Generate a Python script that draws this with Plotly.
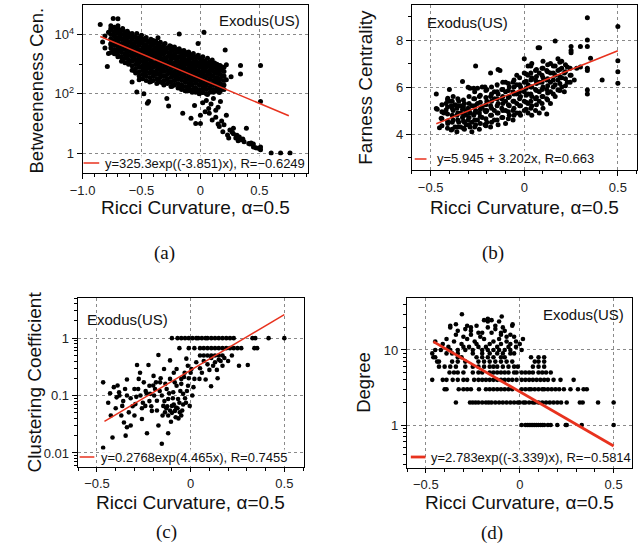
import math
import plotly.graph_objects as go

# ------------------------------------------------------------------ data
network_label = "Exodus(US)"
x_axis_title = "Ricci Curvature, α=0.5"
y_axis_titles = ["Betweeneness Cen.", "Farness Centrality", "Clustering Coefficient", "Degree"]
captions = ["(a)", "(b)", "(c)", "(d)"]

# (a) Ricci curvature vs betweenness centrality (log y) -- scattered points
pts_a = [
    (-0.85, 22000), (-0.83, 5600), (-0.81, 9000), (-0.81, 3500), (-0.79, 830), (-0.78, 12000), (-0.78, 2300),
    (-0.76, 7000), (-0.76, 4500), (-0.76, 16000), (-0.74, 35000), (-0.74, 10000), (-0.74, 3000), (-0.74, 6000),
    (-0.72, 14000), (-0.72, 5000), (-0.72, 2500), (-0.72, 8000), (-0.70, 34000), (-0.70, 20000), (-0.70, 6500),
    (-0.70, 3500), (-0.70, 1800), (-0.68, 12000), (-0.68, 4200), (-0.68, 2800), (-0.68, 9000), (-0.66, 16000),
    (-0.66, 7000), (-0.66, 3200), (-0.66, 1400), (-0.64, 10000), (-0.64, 5000), (-0.64, 2200), (-0.64, 6500),
    (-0.62, 13000), (-0.62, 4000), (-0.62, 2600), (-0.62, 1600), (-0.62, 8000), (-0.60, 9000), (-0.60, 5500),
    (-0.60, 3000), (-0.60, 1200), (-0.58, 7000), (-0.58, 4000), (-0.58, 2000), (-0.58, 11000), (-0.58, 250),
    (-0.56, 8500), (-0.56, 5000), (-0.56, 2800), (-0.56, 1500), (-0.56, 600), (-0.54, 11000), (-0.54, 6000),
    (-0.54, 3500), (-0.54, 2000), (-0.54, 1000), (-0.54, 115), (-0.52, 7500), (-0.52, 4500), (-0.52, 2400),
    (-0.52, 1300), (-0.52, 300), (-0.50, 9500), (-0.50, 5500), (-0.50, 3000), (-0.50, 1800), (-0.50, 800),
    (-0.48, 6500), (-0.48, 3800), (-0.48, 2100), (-0.48, 1100), (-0.48, 100), (-0.48, 450), (-0.46, 8000),
    (-0.46, 4500), (-0.46, 2600), (-0.46, 1500), (-0.46, 700), (-0.45, 48), (-0.45, 3200), (-0.45, 1000),
    (-0.44, 6000), (-0.44, 3500), (-0.44, 1900), (-0.44, 900), (-0.44, 55), (-0.42, 7000), (-0.42, 4200),
    (-0.42, 2300), (-0.42, 1300), (-0.42, 600), (-0.42, 260), (-0.40, 5200), (-0.40, 3000), (-0.40, 1700),
    (-0.40, 800), (-0.40, 400), (-0.38, 6000), (-0.38, 3600), (-0.38, 2000), (-0.38, 1100), (-0.38, 500),
    (-0.36, 4500), (-0.36, 2700), (-0.36, 1500), (-0.36, 700), (-0.36, 300), (-0.36, 7800), (-0.34, 5500),
    (-0.34, 3200), (-0.34, 1800), (-0.34, 950), (-0.34, 450), (-0.32, 4000), (-0.32, 2400), (-0.32, 1300),
    (-0.32, 650), (-0.32, 230), (-0.30, 5000), (-0.30, 2900), (-0.30, 1600), (-0.30, 850), (-0.30, 400),
    (-0.285, 70), (-0.27, 39), (-0.27, 3600), (-0.27, 1900), (-0.27, 1000), (-0.27, 500), (-0.27, 250),
    (-0.26, 4200), (-0.26, 2200), (-0.26, 1200), (-0.26, 600), (-0.24, 3000), (-0.24, 1700), (-0.24, 900),
    (-0.24, 450), (-0.24, 180), (-0.22, 3800), (-0.22, 2000), (-0.22, 1100), (-0.22, 550), (-0.22, 280),
    (-0.20, 2600), (-0.20, 1400), (-0.20, 750), (-0.20, 380), (-0.18, 10500), (-0.18, 3300), (-0.18, 1800),
    (-0.18, 950), (-0.18, 480), (-0.18, 200), (-0.16, 2400), (-0.16, 1300), (-0.16, 700), (-0.16, 350),
    (-0.16, 150), (-0.15, 22), (-0.14, 2900), (-0.14, 1600), (-0.14, 850), (-0.14, 420), (-0.12, 2100),
    (-0.12, 1150), (-0.12, 600), (-0.12, 300), (-0.12, 130), (-0.10, 2600), (-0.10, 1000), (-0.10, 1400),
    (-0.10, 750), (-0.10, 380), (-0.10, 180), (-0.08, 1900), (-0.08, 1000), (-0.08, 520), (-0.08, 260),
    (-0.08, 15), (-0.06, 2300), (-0.06, 1000), (-0.06, 1200), (-0.06, 650), (-0.06, 330), (-0.06, 140),
    (-0.05, 40), (-0.04, 1700), (-0.04, 1000), (-0.04, 900), (-0.04, 480), (-0.04, 240), (-0.04, 10),
    (-0.02, 5000), (-0.02, 2000), (-0.02, 1000), (-0.02, 1100), (-0.02, 580), (-0.02, 290), (-0.02, 120),
    (0.00, 1500), (0.00, 1000), (0.00, 800), (0.00, 420), (0.00, 210), (0.00, 19), (0.00, 10), (0.02, 1800),
    (0.02, 1000), (0.02, 950), (0.02, 500), (0.02, 260), (0.02, 110), (0.02, 50), (0.03, 12000), (0.04, 1300),
    (0.04, 1000), (0.04, 700), (0.04, 360), (0.04, 180), (0.04, 25), (0.05, 60), (0.06, 1600), (0.06, 1000),
    (0.06, 850), (0.06, 450), (0.06, 230), (0.06, 95), (0.07, 32), (0.075, 22), (0.08, 1200), (0.08, 1000),
    (0.08, 600), (0.08, 320), (0.08, 160), (0.09, 45), (0.10, 1400), (0.10, 1000), (0.10, 750), (0.10, 400),
    (0.10, 200), (0.10, 13), (0.11, 70), (0.12, 1100), (0.12, 1000), (0.12, 550), (0.12, 280), (0.12, 130),
    (0.13, 28), (0.13, 16), (0.14, 1000), (0.14, 650), (0.14, 350), (0.14, 170), (0.15, 35), (0.15, 9.5),
    (0.16, 900), (0.16, 480), (0.16, 240), (0.16, 110), (0.16, 7.8), (0.17, 55), (0.18, 750), (0.18, 400),
    (0.18, 200), (0.18, 12), (0.19, 5.2), (0.20, 9), (0.21, 3000), (0.22, 950), (0.22, 300), (0.22, 19),
    (0.23, 4.1), (0.24, 3.2), (0.25, 6), (0.26, 380), (0.27, 5), (0.28, 6.8), (0.28, 4.5), (0.30, 3.2),
    (0.31, 4.0), (0.32, 2.6), (0.33, 3.5), (0.34, 900), (0.34, 470), (0.34, 2.8), (0.36, 3.0), (0.37, 2.4),
    (0.39, 6.8), (0.41, 2.1), (0.42, 2.0), (0.43, 2.2), (0.45, 1.6), (0.45, 2.0), (0.47, 1.5), (0.49, 1.45),
    (0.51, 900), (0.51, 55), (0.51, 1.6), (0.51, 1.3), (0.60, 1), (0.68, 1), (0.76, 1),
]
# (a) dense core of the cloud, read column by column: (curvature, [betweenness values])
core_a = [
    (-0.76, [2510, 3550, 5010, 7080, 10000, 14100, 20000]),
    (-0.73, [2240, 3160, 4470, 6310, 8910, 12600, 17800]),
    (-0.70, [2000, 2820, 3980, 5620, 7940, 11200, 15800]),
    (-0.67, [1260, 1780, 2510, 3550, 5010, 7080, 10000, 14100]),
    (-0.64, [1120, 1580, 2240, 3160, 4470, 6310, 8910, 12600]),
    (-0.61, [1000, 1410, 2000, 2820, 3980, 5620, 7940, 11200]),
    (-0.58, [630, 890, 1260, 1780, 2510, 3550, 5010, 7080, 10000]),
    (-0.55, [500, 710, 1000, 1410, 2000, 2820, 3980, 5620, 7940]),
    (-0.52, [400, 560, 790, 1120, 1580, 2240, 3160, 4470, 6310, 7940]),
    (-0.49, [320, 450, 630, 890, 1260, 1780, 2510, 3550, 5010, 7080]),
    (-0.46, [280, 400, 560, 790, 1120, 1580, 2240, 3160, 4470, 6310]),
    (-0.43, [250, 355, 500, 710, 1000, 1410, 2000, 2820, 3980, 5620]),
    (-0.40, [280, 400, 560, 790, 1120, 1580, 2240, 3160, 4470, 6310]),
    (-0.37, [224, 316, 447, 631, 891, 1259, 1778, 2512, 3548, 5012]),
    (-0.34, [251, 355, 501, 708, 1000, 1413, 1995, 2818, 3981]),
    (-0.31, [200, 282, 398, 562, 794, 1122, 1585, 2239, 3162, 4467]),
    (-0.28, [224, 316, 447, 631, 891, 1259, 1778, 2512, 3548]),
    (-0.25, [178, 251, 355, 501, 708, 1000, 1413, 1995, 2818, 3981]),
    (-0.22, [200, 282, 398, 562, 794, 1122, 1585, 2239, 3162]),
    (-0.19, [158, 224, 316, 447, 631, 891, 1259, 1778, 2512, 3162]),
    (-0.16, [141, 200, 282, 398, 562, 794, 1122, 1585, 2239, 2818]),
    (-0.13, [126, 178, 251, 355, 501, 708, 1000, 1413, 1995, 2512]),
    (-0.10, [126, 158, 224, 316, 447, 631, 891, 1259, 1778, 2239]),
    (-0.07, [112, 141, 200, 282, 398, 562, 794, 1122, 1585, 1995]),
    (-0.04, [112, 158, 224, 316, 447, 631, 891, 1000, 1259, 1778]),
    (-0.01, [100, 141, 200, 282, 398, 562, 794, 1000, 1122, 1585]),
    (0.02, [112, 158, 224, 316, 447, 631, 891, 1000, 1259]),
    (0.05, [100, 141, 200, 282, 398, 562, 794, 1000, 1122]),
    (0.08, [112, 158, 224, 316, 447, 631, 891, 1000]),
    (0.11, [112, 141, 200, 282, 398, 562, 794, 1000]),
    (0.14, [126, 178, 251, 355, 501, 708, 891]),
    (0.17, [126, 158, 224, 316, 447, 631, 891]),
    (0.20, [141, 200, 282, 398, 562, 794]),
]

# (b) Ricci curvature vs farness centrality (linear y)
pts_b = [
    (-0.47, 5.70), (-0.47, 5.09), (-0.465, 5.05), (-0.453, 4.27), (-0.444, 4.67), (-0.43, 4.9), (-0.418, 5.02),
    (-0.418, 5.3), (-0.409, 5.52), (-0.409, 4.45), (-0.40, 5.90), (-0.40, 5.4), (-0.39, 4.17), (-0.39, 5.2),
    (-0.38, 4.6), (-0.38, 5.0), (-0.38, 5.6), (-0.37, 4.3), (-0.37, 5.25), (-0.36, 4.8), (-0.36, 5.1),
    (-0.36, 4.1), (-0.35, 4.5), (-0.35, 5.4), (-0.34, 4.3), (-0.34, 4.9), (-0.34, 5.2), (-0.33, 6.23),
    (-0.33, 4.7), (-0.33, 5.05), (-0.32, 4.2), (-0.32, 4.5), (-0.32, 5.3), (-0.31, 4.8), (-0.31, 5.0),
    (-0.31, 4.4), (-0.30, 5.99), (-0.30, 4.6), (-0.30, 5.1), (-0.29, 4.3), (-0.29, 4.9), (-0.29, 5.95),
    (-0.28, 4.5), (-0.28, 5.2), (-0.28, 4.1), (-0.27, 4.8), (-0.27, 5.95), (-0.27, 5.5), (-0.26, 6.9),
    (-0.26, 4.4), (-0.26, 5.0), (-0.25, 4.6), (-0.25, 5.3), (-0.25, 5.95), (-0.24, 4.2), (-0.24, 4.9),
    (-0.24, 5.6), (-0.225, 6.0), (-0.225, 4.7), (-0.225, 5.15), (-0.21, 4.4), (-0.21, 5.0), (-0.21, 6.0),
    (-0.20, 4.5), (-0.20, 5.0), (-0.20, 5.4), (-0.20, 5.9), (-0.18, 4.3), (-0.18, 4.8), (-0.18, 5.2),
    (-0.18, 5.6), (-0.18, 6.6), (-0.16, 4.6), (-0.16, 5.0), (-0.16, 5.5), (-0.16, 5.8), (-0.14, 4.4),
    (-0.14, 4.9), (-0.14, 5.3), (-0.14, 5.7), (-0.14, 6.75), (-0.13, 6.7), (-0.12, 4.7), (-0.12, 5.1),
    (-0.12, 5.5), (-0.12, 5.9), (-0.10, 4.45), (-0.10, 5.0), (-0.10, 5.4), (-0.10, 5.8), (-0.10, 6.2),
    (-0.08, 4.8), (-0.08, 5.2), (-0.08, 5.6), (-0.08, 6.0), (-0.06, 4.6), (-0.06, 5.0), (-0.06, 5.4),
    (-0.06, 5.8), (-0.06, 6.2), (-0.04, 4.9), (-0.04, 5.3), (-0.04, 5.7), (-0.04, 6.1), (-0.04, 6.5),
    (-0.02, 4.8), (-0.02, 5.2), (-0.02, 5.6), (-0.02, 6.0), (0.00, 5.0), (0.00, 5.4), (0.00, 5.8),
    (0.00, 6.2), (0.00, 6.6), (0.00, 7.2), (0.02, 4.9), (0.02, 5.3), (0.02, 5.7), (0.02, 6.1), (0.02, 6.5),
    (0.02, 6.9), (0.04, 4.8), (0.04, 5.2), (0.04, 5.6), (0.04, 6.0), (0.04, 6.4), (0.04, 7.0), (0.06, 5.0),
    (0.06, 5.5), (0.06, 5.9), (0.06, 6.3), (0.06, 6.7), (0.074, 7.67), (0.08, 4.9), (0.08, 5.4), (0.08, 5.8),
    (0.08, 6.2), (0.08, 6.6), (0.082, 7.67), (0.10, 5.1), (0.10, 5.6), (0.10, 6.0), (0.10, 6.4), (0.10, 6.8),
    (0.10, 7.1), (0.12, 4.85), (0.12, 5.5), (0.12, 5.9), (0.12, 6.3), (0.12, 6.7), (0.14, 5.3), (0.14, 5.8),
    (0.14, 6.2), (0.14, 6.6), (0.14, 7.0), (0.165, 7.96), (0.165, 5.6), (0.165, 6.1), (0.165, 6.5),
    (0.165, 6.9), (0.18, 5.87), (0.18, 6.3), (0.18, 6.7), (0.18, 7.2), (0.20, 6.0), (0.20, 6.4), (0.20, 6.8),
    (0.20, 7.1), (0.214, 5.8), (0.214, 6.6), (0.23, 6.2), (0.23, 6.85), (0.25, 7.72), (0.25, 7.55),
    (0.25, 7.46), (0.25, 6.5), (0.267, 6.3), (0.28, 6.8), (0.30, 7.72), (0.30, 6.85), (0.337, 8.95),
    (0.337, 8.0), (0.337, 7.72), (0.337, 6.8), (0.337, 6.7), (0.337, 5.87), (0.337, 5.7), (0.354, 7.22),
    (0.416, 6.3), (0.50, 8.57), (0.50, 7.12), (0.50, 6.65), (0.50, 6.16),
]
# (b) dense core, column by column: (curvature, [farness values])
core_b = [
    (-0.44, [4.35, 4.65, 4.95, 5.25]),
    (-0.41, [4.25, 4.55, 4.85, 5.15, 5.45]),
    (-0.385, [4.2, 4.5, 4.8, 5.1, 5.4]),
    (-0.355, [4.3, 4.6, 4.9, 5.2, 5.5]),
    (-0.325, [4.25, 4.55, 4.85, 5.15, 5.45]),
    (-0.295, [4.4, 4.7, 5.0, 5.3, 5.6]),
    (-0.265, [4.3, 4.6, 4.9, 5.2, 5.5, 5.8]),
    (-0.235, [4.45, 4.75, 5.05, 5.35, 5.65]),
    (-0.205, [4.35, 4.65, 4.95, 5.25, 5.55, 5.85]),
    (-0.175, [4.5, 4.8, 5.1, 5.4, 5.7, 6.0]),
    (-0.145, [4.6, 4.9, 5.2, 5.5, 5.8, 6.1]),
    (-0.115, [4.7, 5.0, 5.3, 5.6, 5.9, 6.2]),
    (-0.085, [4.65, 4.95, 5.25, 5.55, 5.85, 6.15]),
    (-0.055, [4.8, 5.1, 5.4, 5.7, 6.0, 6.3]),
    (-0.025, [4.9, 5.2, 5.5, 5.8, 6.1, 6.4]),
    (0.01, [5.05, 5.35, 5.65, 5.95, 6.25, 6.55]),
    (0.035, [5.1, 5.4, 5.7, 6.0, 6.3, 6.6, 6.9]),
    (0.065, [5.25, 5.55, 5.85, 6.15, 6.45, 6.75]),
    (0.095, [5.3, 5.6, 5.9, 6.2, 6.5, 6.8]),
    (0.125, [5.45, 5.75, 6.05, 6.35, 6.65, 6.95]),
    (0.155, [5.7, 6.0, 6.3, 6.6, 6.9]),
    (0.19, [5.85, 6.15, 6.45, 6.75, 7.05]),
    (0.22, [6.05, 6.35, 6.65, 6.95]),
    (0.245, [6.2, 6.5, 6.8]),
]

# (c) Ricci curvature vs clustering coefficient (log y)
pts_c = [
    (-0.467, 0.0123), (-0.467, 0.17), (-0.44, 0.075), (-0.426, 0.045), (-0.417, 0.0186), (-0.41, 0.14),
    (-0.40, 0.06), (-0.395, 0.093), (-0.382, 0.114), (-0.38, 0.10), (-0.365, 0.066), (-0.36, 0.08),
    (-0.356, 0.034), (-0.347, 0.02), (-0.34, 0.19), (-0.34, 0.10), (-0.34, 0.028), (-0.33, 0.051),
    (-0.32, 0.03), (-0.32, 0.09), (-0.30, 0.13), (-0.30, 0.045), (-0.295, 0.071), (-0.286, 0.34),
    (-0.28, 0.13), (-0.277, 0.195), (-0.268, 0.10), (-0.26, 0.039), (-0.26, 0.06), (-0.25, 0.17),
    (-0.242, 0.066), (-0.24, 0.12), (-0.233, 0.022), (-0.225, 0.34), (-0.22, 0.148), (-0.22, 0.08),
    (-0.216, 0.107), (-0.207, 0.054), (-0.20, 0.15), (-0.198, 0.22), (-0.19, 0.13), (-0.18, 0.081),
    (-0.18, 0.055), (-0.172, 0.51), (-0.172, 0.03), (-0.163, 0.17), (-0.16, 0.20), (-0.154, 0.0145),
    (-0.154, 0.10), (-0.146, 0.066), (-0.142, 0.29), (-0.14, 0.08), (-0.137, 0.051), (-0.13, 0.06),
    (-0.128, 0.13), (-0.12, 0.022), (-0.12, 0.087), (-0.12, 0.045), (-0.11, 0.41), (-0.11, 0.195),
    (-0.11, 0.055), (-0.10, 0.066), (-0.10, 0.05), (-0.093, 0.114), (-0.09, 0.07), (-0.09, 0.25),
    (-0.084, 0.054), (-0.08, 0.042), (-0.075, 0.29), (-0.075, 0.148), (-0.07, 0.06), (-0.067, 0.087),
    (-0.06, 0.075), (-0.058, 0.051), (-0.05, 0.195), (-0.05, 0.045), (-0.05, 0.16), (-0.04, 0.107),
    (-0.04, 0.07), (-0.032, 0.25), (-0.03, 0.09), (-0.023, 0.44), (-0.02, 0.12), (-0.014, 0.148),
    (-0.01, 0.20), (-0.005, 0.066), (0.00, 0.25), (0.004, 0.29), (0.009, 0.10), (0.02, 0.195),
    (0.03, 0.38), (0.047, 0.195), (0.05, 0.30), (0.07, 0.40), (0.08, 0.19), (0.09, 0.35), (0.109, 0.145),
    (0.11, 0.45), (0.13, 0.38), (0.144, 0.20), (0.15, 0.42), (0.17, 0.33), (0.258, 0.33), (0.305, 0.34),
    (-0.43, 0.11), (-0.39, 0.15), (-0.37, 0.045), (-0.35, 0.13), (-0.31, 0.065), (-0.29, 0.095),
    (-0.27, 0.25), (-0.255, 0.075), (-0.235, 0.11), (-0.21, 0.065), (-0.195, 0.1), (-0.185, 0.17),
    (-0.165, 0.12), (-0.15, 0.045), (-0.135, 0.16), (-0.125, 0.065), (-0.115, 0.11), (-0.105, 0.035),
    (-0.095, 0.09), (-0.085, 0.17), (-0.078, 0.062), (-0.065, 0.04), (-0.055, 0.12), (-0.045, 0.055),
    (-0.035, 0.21), (-0.025, 0.075), (-0.015, 0.33), (0.015, 0.14), (0.06, 0.25), (0.1, 0.28),
    (0.12, 0.33), (0.14, 0.28), (0.16, 0.4), (0.18, 0.45), (0.2, 0.4), (0.22, 0.5),
    (0.05, 0.5), (0.07, 0.5), (0.09, 0.5), (0.11, 0.5), (0.13, 0.5), (0.15, 0.5), (0.17, 0.5),
    (-0.06, 0.67), (-0.01, 0.67), (0.02, 0.67), (0.05, 0.67), (0.07, 0.67), (0.09, 0.67), (0.11, 0.67),
    (0.13, 0.67), (0.15, 0.67), (0.17, 0.67), (0.19, 0.67), (0.21, 0.67), (0.23, 0.67), (0.25, 0.67),
    (0.27, 0.67), (0.34, 0.67), (0.355, 0.67),
    (-0.10, 1), (-0.07, 1), (-0.05, 1), (-0.03, 1), (-0.01, 1), (0.01, 1), (0.03, 1), (0.04, 1), (0.06, 1),
    (0.08, 1), (0.09, 1), (0.11, 1), (0.13, 1), (0.15, 1), (0.17, 1), (0.19, 1), (0.21, 1), (0.23, 1),
    (0.33, 1), (0.345, 1), (0.416, 1), (0.50, 1),
]

# (d) Ricci curvature vs degree (log y)
pts_d = [
    (0.01, 1), (0.03, 1), (0.04, 1), (0.05, 1), (0.06, 1), (0.07, 1), (0.08, 1), (0.09, 1), (0.10, 1),
    (0.11, 1), (0.12, 1), (0.13, 1), (0.15, 1), (0.165, 1), (0.20, 1), (0.245, 1), (0.25, 1), (0.33, 1),
    (0.50, 1),
    (-0.34, 2), (-0.265, 2), (-0.25, 2), (-0.235, 2), (-0.22, 2), (-0.20, 2), (-0.18, 2), (-0.165, 2),
    (-0.15, 2), (-0.13, 2), (-0.11, 2), (-0.09, 2), (-0.07, 2), (-0.05, 2), (-0.03, 2), (-0.01, 2), (0.00, 2),
    (0.02, 2), (0.03, 2), (0.05, 2), (0.07, 2), (0.08, 2), (0.10, 2), (0.12, 2), (0.14, 2), (0.16, 2),
    (0.18, 2), (0.20, 2), (0.22, 2), (0.25, 2), (0.32, 2), (0.335, 2), (0.417, 2), (0.50, 2),
    (-0.40, 3), (-0.39, 3), (-0.325, 3), (-0.30, 3), (-0.28, 3), (-0.26, 3), (-0.217, 3), (-0.18, 3),
    (-0.16, 3), (-0.14, 3), (-0.12, 3), (-0.10, 3), (-0.08, 3), (-0.06, 3), (-0.04, 3), (0.01, 3), (0.03, 3),
    (0.05, 3), (0.06, 3), (0.08, 3), (0.10, 3), (0.12, 3), (0.13, 3), (0.15, 3), (0.17, 3), (0.19, 3),
    (0.21, 3), (0.235, 3), (0.27, 3), (0.31, 3), (0.34, 3), (0.357, 3),
    (-0.466, 4), (-0.41, 4), (-0.39, 4), (-0.357, 4), (-0.33, 4), (-0.30, 4), (-0.28, 4), (-0.243, 4),
    (-0.22, 4), (-0.20, 4), (-0.18, 4), (-0.16, 4), (-0.14, 4), (-0.12, 4), (-0.10, 4), (-0.08, 4), (-0.06, 4),
    (-0.04, 4), (-0.017, 4), (0.01, 4), (0.03, 4), (0.05, 4), (0.07, 4), (0.09, 4), (0.11, 4), (0.13, 4),
    (0.15, 4), (0.18, 4), (0.217, 4), (0.287, 4),
    (-0.374, 5), (-0.35, 5), (-0.33, 5), (-0.30, 5), (-0.25, 5), (-0.22, 5), (-0.20, 5), (-0.16, 5),
    (-0.14, 5), (-0.12, 5), (-0.10, 5), (-0.08, 5), (-0.06, 5), (-0.03, 5), (-0.017, 5), (0.01, 5), (0.03, 5),
    (0.05, 5), (0.07, 5), (0.10, 5), (0.12, 5), (0.14, 5), (0.165, 5),
    (-0.43, 6), (-0.40, 6), (-0.37, 6), (-0.34, 6), (-0.29, 6), (-0.25, 6), (-0.22, 6), (-0.19, 6),
    (-0.16, 6), (-0.14, 6), (-0.12, 6), (-0.09, 6), (-0.06, 6), (-0.03, 6), (-0.01, 6), (0.07, 6), (0.10, 6),
    (0.13, 6),
    (-0.44, 7), (-0.43, 7), (-0.36, 7), (-0.33, 7), (-0.29, 7), (-0.22, 7), (-0.19, 7), (-0.16, 7),
    (-0.13, 7), (-0.10, 7), (-0.07, 7), (-0.04, 7), (0.08, 7), (0.10, 7), (0.13, 7),
    (-0.46, 8), (-0.45, 8), (-0.33, 8), (-0.31, 8), (-0.23, 8), (-0.20, 8), (-0.17, 8), (-0.14, 8),
    (-0.10, 8), (-0.08, 8), (0.06, 8), (0.10, 8), (0.13, 8),
    (-0.466, 9), (-0.39, 9), (-0.36, 9), (-0.33, 9), (-0.25, 9), (-0.20, 9), (-0.16, 9), (-0.12, 9),
    (-0.09, 9), (-0.05, 9), (-0.03, 9),
    (-0.45, 10), (-0.42, 10), (-0.37, 10), (-0.33, 10), (-0.29, 10), (-0.25, 10), (-0.20, 10), (-0.17, 10),
    (-0.14, 10), (-0.11, 10), (-0.08, 10), (-0.05, 10), (0.01, 10),
    (-0.38, 11), (-0.30, 11), (-0.27, 11), (-0.22, 11), (-0.18, 11), (-0.12, 11), (-0.06, 11), (-0.02, 11),
    (-0.41, 12), (-0.31, 12), (-0.23, 12), (-0.16, 12), (-0.10, 12), (-0.05, 12), (0.00, 12),
    (-0.45, 13), (-0.35, 13), (-0.24, 13), (-0.14, 13), (-0.07, 13), (-0.02, 13),
    (-0.39, 14), (-0.28, 14), (-0.19, 14), (-0.11, 14), (0.017, 14),
    (-0.30, 15), (-0.21, 15), (-0.07, 15), (-0.03, 15),
    (-0.34, 16), (-0.26, 16), (-0.10, 16), (-0.05, 16),
    (-0.22, 17), (-0.20, 17), (-0.15, 17), (-0.10, 17),
    (-0.33, 18), (-0.26, 18), (-0.08, 18),
    (-0.29, 19), (-0.13, 19),
    (-0.37, 20), (-0.26, 20), (-0.17, 20), (-0.09, 20),
    (-0.37, 21), (-0.28, 21), (-0.23, 21), (-0.13, 21), (-0.04, 21),
    (-0.34, 22), (-0.038, 22),
    (-0.17, 24), (-0.11, 24),
    (-0.19, 25), (-0.15, 25),
    (-0.17, 26),
    (-0.096, 28),
    (-0.308, 30),
]

# fitted models shown in each panel: (kind, a, b, R, x_start, x_end)
fit_a = ("exp", 325.3, -3.851, -0.6249, -0.85, 0.75)
fit_b = ("lin", 5.945, 3.202, 0.663, -0.47, 0.50)
fit_c = ("exp", 0.2768, 4.465, 0.7455, -0.46, 0.50)
fit_d = ("exp", 2.783, -3.339, -0.5814, -0.46, 0.50)

legend_texts = [
    "y=325.3exp((-3.851)x), R=\u22120.6249",
    "y=5.945 + 3.202x, R=0.663",
    "y=0.2768exp(4.465x), R=0.7455",
    "y=2.783exp((-3.339)x), R=\u22120.5814",
]

# ------------------------------------------------------------------ layout helpers
W, H = 644, 558
def px(x):
    return x / W
def py(y):
    return 1 - y / H

SANS = "Arial"
SERIF = "Times New Roman"

def flatten(points, core):
    xs = [p[0] for p in points]
    ys = [p[1] for p in points]
    for cx, vals in core:
        for v in vals:
            xs.append(cx)
            ys.append(v)
    return xs, ys

def fit_line(fit):
    kind, a, b, r, x0, x1 = fit
    xs = [x0, x1]
    if kind == "exp":
        ys = [a * math.exp(b * x) for x in xs]
    else:
        ys = [a + b * x for x in xs]
    return xs, ys

fig = go.Figure()

series = [flatten(pts_a, core_a), flatten(pts_b, core_b), flatten(pts_c, []), flatten(pts_d, [])]
all_fits = [fit_a, fit_b, fit_c, fit_d]
line_widths = [1.5, 1.5, 1.5, 2.8]
marker_sizes = [5, 5, 4.6, 4.6]

for i in range(4):
    ax = "" if i == 0 else str(i + 1)
    xs, ys = series[i]
    fig.add_trace(go.Scatter(x=xs, y=ys, mode="markers", xaxis="x" + ax, yaxis="y" + ax,
                             marker=dict(color="black", size=marker_sizes[i], line=dict(width=0)),
                             showlegend=False, hoverinfo="skip"))
    fx, fy = fit_line(all_fits[i])
    fig.add_trace(go.Scatter(x=fx, y=fy, mode="lines", xaxis="x" + ax, yaxis="y" + ax,
                             line=dict(color="#e8321e", width=line_widths[i]), showlegend=False,
                             hoverinfo="skip"))

axis_common = dict(showline=True, linecolor="black", linewidth=1, mirror=True,
                   ticks="outside", ticklen=5, tickwidth=1, tickcolor="black",
                   showgrid=True, gridcolor="#8a8a8a", griddash="dot", gridwidth=1,
                   zeroline=False, tickfont=dict(family=SANS, size=13, color="#222"))

x_minor = dict(ticks="outside", ticklen=3, tickcolor="black", dtick=0.1, tick0=0, showgrid=False)

def log_minor(lo, hi):
    vals = []
    for k in range(lo, hi):
        for m in range(2, 10):
            vals.append(m * 10 ** k)
    return vals

layout_axes = {}
# (a)
layout_axes["xaxis"] = dict(axis_common, domain=[px(71), px(301)], anchor="y", range=[-1.0, 0.912],
                            tickvals=[-1.0, -0.5, 0, 0.5], ticktext=["\u22121.0", "\u22120.5", "0", "0.5"],
                            minor=x_minor)
layout_axes["yaxis"] = dict(axis_common, domain=[py(173), py(5)], anchor="x", type="log", range=[-0.675, 5.0],
                            tickvals=[1, 100, 10000], ticktext=["1", "10<sup>2</sup>", "10<sup>4</sup>"],
                            minor=dict(ticks="outside", ticklen=3, tickcolor="black", tickmode="array",
                                       tickvals=[10, 1000], showgrid=False))
# (b)
layout_axes["xaxis2"] = dict(axis_common, domain=[px(407), px(637)], anchor="y2", range=[-0.601, 0.603],
                             tickvals=[-0.5, 0, 0.5], ticktext=["\u22120.5", "0", "0.5"], minor=x_minor)
layout_axes["yaxis2"] = dict(axis_common, domain=[py(170), py(5)], anchor="x2", range=[2.47, 9.49],
                             tickvals=[4, 6, 8],
                             minor=dict(ticks="outside", ticklen=3, tickcolor="black", tickmode="array",
                                        tickvals=[3, 5, 7, 9], showgrid=False))
# (c)
layout_axes["xaxis3"] = dict(axis_common, domain=[px(66), px(297)], anchor="y3", range=[-0.603, 0.605],
                             tickvals=[-0.5, 0, 0.5], ticktext=["\u22120.5", "0", "0.5"], minor=x_minor,
                             ticklen=4)
layout_axes["yaxis3"] = dict(axis_common, domain=[py(467), py(298)], anchor="x3", type="log",
                             range=[-2.245, 0.70], tickvals=[0.01, 0.1, 1], ticktext=["0.01", "0.1", "1"],
                             minor=dict(ticks="outside", ticklen=3, tickcolor="black", tickmode="array",
                                        tickvals=log_minor(-3, 1), showgrid=False))
# (d)
layout_axes["xaxis4"] = dict(axis_common, domain=[px(402), px(632)], anchor="y4", range=[-0.601, 0.599],
                             tickvals=[-0.5, 0, 0.5], ticktext=["\u22120.5", "0", "0.5"], minor=x_minor,
                             ticklen=4)
layout_axes["yaxis4"] = dict(axis_common, domain=[py(468), py(298)], anchor="x4", type="log",
                             range=[-0.573, 1.693], tickvals=[1, 10], ticktext=["1", "10"],
                             minor=dict(ticks="outside", ticklen=3, tickcolor="black", tickmode="array",
                                        tickvals=log_minor(-1, 2), showgrid=False))

annotations = []
shapes = []

def ann(x, y, text, size, family=SANS, xanchor="center", yanchor="middle", angle=0, bg=None, color="#111"):
    d = dict(x=px(x), y=py(y), xref="paper", yref="paper", text=text, showarrow=False,
             xanchor=xanchor, yanchor=yanchor, textangle=angle,
             font=dict(family=family, size=size, color=color))
    if bg:
        d["bgcolor"] = bg
        d["borderpad"] = 0
    annotations.append(d)

# x axis titles
ann(186, 208, x_axis_title, 19)
ann(522, 208, x_axis_title, 19)
ann(181.5, 502, x_axis_title, 19)
ann(517, 502, x_axis_title, 19)
# y axis titles
ann(25, 90, y_axis_titles[0], 18.5, angle=-90)
ann(360, 87, y_axis_titles[1], 19, angle=-90)
ann(21, 382, y_axis_titles[2], 19, angle=-90)
ann(357, 382, y_axis_titles[3], 18.5, angle=-90)
# network labels
ann(295, 21, network_label, 15, xanchor="right")
ann(420, 22, network_label, 15, xanchor="left")
ann(73, 319, network_label, 15, xanchor="left")
ann(626, 314, network_label, 15, xanchor="right")
# captions
ann(155, 253, captions[0], 19, family=SERIF)
ann(490, 253, captions[1], 19, family=SERIF)
ann(157, 532, captions[2], 19, family=SERIF)
ann(489, 533, captions[3], 19, family=SERIF)

# legends (line sample + text)
leg_pos = [(72, 88, 93, 163), (410, 422, 432, 159), (68, 83, 89, 457), (406, 421, 426, 457)]
for i, (l0, l1, tx, ty) in enumerate(leg_pos):
    ann(tx, ty, legend_texts[i], 13, xanchor="left", bg="rgba(255,255,255,0.85)")
    shapes.append(dict(type="line", xref="paper", yref="paper", x0=px(l0), x1=px(l1), y0=py(ty), y1=py(ty),
                       line=dict(color="#e8321e", width=line_widths[i])))

fig.update_layout(width=W, height=H, margin=dict(l=0, r=0, t=0, b=0), paper_bgcolor="white",
                  plot_bgcolor="white", showlegend=False, annotations=annotations, shapes=shapes,
                  font=dict(family=SANS),
                  **layout_axes)

fig.write_html("out.html")
